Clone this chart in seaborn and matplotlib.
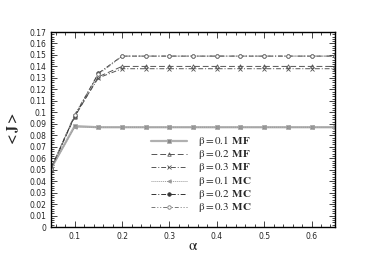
import numpy as np
import pandas as pd
import seaborn as sns
import matplotlib.pyplot as plt
from matplotlib.ticker import MultipleLocator

# Data
alpha = [0.05, 0.10, 0.15, 0.20, 0.25, 0.30, 0.35, 0.40, 0.45, 0.50, 0.55, 0.60, 0.65]
mf_b01 = [0.051, 0.088, 0.087, 0.087, 0.087, 0.087, 0.087, 0.087, 0.087, 0.087, 0.087, 0.087, 0.087]
mf_b02 = [0.051, 0.096, 0.131, 0.140, 0.140, 0.140, 0.140, 0.140, 0.140, 0.140, 0.140, 0.140, 0.140]
mf_b03 = [0.051, 0.097, 0.130, 0.138, 0.138, 0.138, 0.138, 0.138, 0.138, 0.138, 0.138, 0.138, 0.138]
mc_b01 = [0.051, 0.087, 0.087, 0.087, 0.087, 0.087, 0.087, 0.087, 0.087, 0.087, 0.087, 0.087, 0.087]
mc_b02 = [0.051, 0.097, 0.134, 0.149, 0.149, 0.149, 0.149, 0.149, 0.149, 0.149, 0.149, 0.149, 0.149]
mc_b03 = [0.051, 0.098, 0.133, 0.149, 0.149, 0.149, 0.149, 0.149, 0.149, 0.149, 0.149, 0.149, 0.149]

labels = [r'$\mathrm{\beta = 0.1}$ $\mathbf{MF}$', r'$\mathrm{\beta = 0.2}$ $\mathbf{MF}$',
          r'$\mathrm{\beta = 0.3}$ $\mathbf{MF}$', r'$\mathrm{\beta = 0.1}$ $\mathbf{MC}$',
          r'$\mathrm{\beta = 0.2}$ $\mathbf{MC}$', r'$\mathrm{\beta = 0.3}$ $\mathbf{MC}$']
series = [mf_b01, mf_b02, mf_b03, mc_b01, mc_b02, mc_b03]

styles = [
    dict(color='#b0b0b0', lw=1.6, ls='-', marker='s', ms=2.5, mfc='#888888'),
    dict(color='#555555', lw=0.7, ls=(0, (6, 3)), marker='^', ms=2.5, mfc='none'),
    dict(color='#555555', lw=0.7, ls=(0, (5, 2, 1, 2)), marker='x', ms=2.5),
    dict(color='#999999', lw=0.7, ls=(0, (1, 1)), marker='<', ms=2.5, mfc='#999999'),
    dict(color='#333333', lw=0.7, ls=(0, (5, 2, 1, 2)), marker='o', ms=2.5, mfc='#333333'),
    dict(color='#777777', lw=0.7, ls=(0, (4, 2, 1, 2, 1, 2)), marker='o', ms=2.5, mfc='white'),
]

sns.set_style('ticks')
plt.rcParams['mathtext.fontset'] = 'stix'

fig = plt.figure(figsize=(3.82, 2.56), dpi=100)
ax = fig.add_axes([0.1335, 0.113, 0.744, 0.762])

for vals, lab, st in zip(series, labels, styles):
    df = pd.DataFrame({'alpha': alpha, 'J': vals})
    sns.lineplot(data=df, x='alpha', y='J', ax=ax, label=lab,
                 color=st['color'], linewidth=st['lw'], linestyle=st['ls'],
                 marker=st['marker'], markersize=st['ms'],
                 markerfacecolor=st.get('mfc', st['color']), markeredgecolor=st['color'],
                 markeredgewidth=0.6)

ax.set_xlim(0.05, 0.65)
ax.set_ylim(0, 0.17)
ax.xaxis.set_major_locator(MultipleLocator(0.1))
ax.xaxis.set_minor_locator(MultipleLocator(0.02))
ax.yaxis.set_major_locator(MultipleLocator(0.01))
ax.yaxis.set_minor_locator(MultipleLocator(0.002))
ax.set_xticks([0.1, 0.2, 0.3, 0.4, 0.5, 0.6])
ax.set_xticklabels(['0.1', '0.2', '0.3', '0.4', '0.5', '0.6'])
ax.set_yticks(np.arange(0, 0.171, 0.01))
ax.set_yticklabels(['0'] + ['%g' % round(v, 2) for v in np.arange(0.01, 0.171, 0.01)])
ax.tick_params(which='both', direction='in', top=True, right=True, labelsize=5.5, width=0.6)
ax.tick_params(which='major', length=4)
ax.tick_params(which='minor', length=2)
for sp in ax.spines.values():
    sp.set_linewidth(1.0)
    sp.set_color('black')

ax.set_xlabel(r'$\mathrm{\alpha}$', fontsize=11, labelpad=-2)
ax.set_ylabel(r'$\mathbf{<J>}$', fontsize=10, labelpad=6)

leg = ax.legend(loc='center', bbox_to_anchor=(0.53, 0.27), frameon=False, fontsize=8,
                handlelength=3.2, handletextpad=1.0, labelspacing=0.0)

fig.savefig('out.png', dpi=100)
